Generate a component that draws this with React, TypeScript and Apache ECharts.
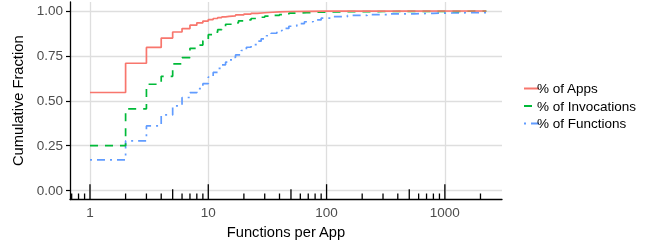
import React, { useEffect, useRef } from "react";
import * as echarts from "echarts";

// ---- data ----
const appsX = [1, 2, 3, 4, 5, 6, 7, 8, 9, 10, 11, 12, 13, 14, 15, 17, 20, 23, 26, 30, 35, 40, 50, 70, 100, 200, 2240];
const appsY = [0.546, 0.709, 0.797, 0.849, 0.883, 0.902, 0.921, 0.934, 0.944, 0.952, 0.958, 0.963, 0.967, 0.97, 0.973, 0.978, 0.983, 0.987, 0.99, 0.993, 0.995, 0.997, 0.998, 0.999, 0.9995, 0.9998, 1];

const invX = [1, 2, 3, 4, 5, 6, 7, 8, 9, 10, 11, 12, 13, 14, 16, 18, 20, 23, 26, 30, 35, 40, 48, 56, 68, 80, 95, 150, 300, 1100, 2240];
const invY = [0.25, 0.455, 0.592, 0.636, 0.705, 0.74, 0.792, 0.81, 0.833, 0.868, 0.882, 0.896, 0.905, 0.926, 0.934, 0.945, 0.95, 0.958, 0.965, 0.971, 0.976, 0.98, 0.988, 0.99, 0.993, 0.994, 0.996, 0.997, 0.998, 0.999, 1];

const funcX = [1, 2, 3, 4, 5, 6, 7, 8, 9, 10, 11, 12, 13, 14, 15, 16, 17, 19, 21, 23, 26, 28, 31, 34, 38, 42, 48, 56, 65, 77, 90, 110, 150, 220, 350, 550, 800, 1500, 2240];
const funcY = [0.171, 0.276, 0.36, 0.421, 0.472, 0.518, 0.545, 0.567, 0.595, 0.632, 0.658, 0.68, 0.7, 0.715, 0.728, 0.742, 0.755, 0.78, 0.798, 0.813, 0.832, 0.845, 0.862, 0.876, 0.89, 0.903, 0.915, 0.93, 0.94, 0.95, 0.96, 0.968, 0.975, 0.98, 0.984, 0.987, 0.99, 0.991, 1];

const seriesNames = ["% of Apps", "% of Invocations", "% of Functions"];
const xTickValues = [1, 10, 100, 1000];
const yTickValues = [0, 0.25, 0.5, 0.75, 1];
const logTicksMajor = [1, 10, 100, 1000];
const logTicksMid = [5, 50, 500];
const logTicksMinor = [0.7, 0.8, 0.9, 2, 3, 4, 6, 7, 8, 9, 20, 30, 40, 60, 70, 80, 90, 200, 300, 400, 600, 700, 800, 900, 2000];

const X_MIN = -0.169;
const X_MAX = 3.483;
const Y_MIN = -0.05;
const Y_MAX = 1.05;
const FONT = "'Liberation Sans', Arial, sans-serif";

const toPairs = (xs: number[], ys: number[]) => xs.map((x, i) => [Math.log10(x), ys[i]]);

export default function App() {
  const ref = useRef<HTMLDivElement>(null);
  useEffect(() => {
    if (!ref.current) return;
    const chart = echarts.init(ref.current, undefined, { renderer: "svg" });
    const tickLen = [15.3, 10.3, 6];
    const tickData = [
      ...logTicksMajor.map((v) => [Math.log10(v), 0]),
      ...logTicksMid.map((v) => [Math.log10(v), 1]),
      ...logTicksMinor.map((v) => [Math.log10(v), 2]),
    ];
    const lineBase = { type: "line", step: "end", showSymbol: false, symbol: "none", animation: false };
    chart.setOption({
      animation: false,
      grid: { left: 70, right: 147, top: 2, bottom: 43.5, containLabel: false, outerBoundsMode: "none" },
      xAxis: {
        type: "value",
        min: X_MIN,
        max: X_MAX,
        name: "Functions per App",
        nameLocation: "middle",
        nameGap: 24,
        nameTextStyle: { fontFamily: FONT, fontSize: 14.7, color: "#000" },
        axisLine: { show: true, onZero: false, lineStyle: { color: "#000", width: 1.3 } },
        axisTick: { show: false, customValues: xTickValues.map((v) => Math.log10(v)) },
        axisLabel: {
          customValues: xTickValues.map((v) => Math.log10(v)),
          formatter: (v: number) => String(Math.round(Math.pow(10, v))),
          fontFamily: FONT,
          fontSize: 13.5,
          color: "#4D4D4D",
          margin: 6,
        },
        splitLine: { show: true, lineStyle: { color: "#DEDEDE", width: 1.3 } },
      },
      yAxis: {
        type: "value",
        min: Y_MIN,
        max: Y_MAX,
        name: "Cumulative Fraction",
        nameLocation: "middle",
        nameGap: 41,
        nameTextStyle: { fontFamily: FONT, fontSize: 14.7, color: "#000" },
        axisLine: { show: true, onZero: false, lineStyle: { color: "#000", width: 1.3 } },
        axisTick: { show: true, length: 4, customValues: yTickValues, lineStyle: { color: "#000", width: 1.2 } },
        axisLabel: {
          customValues: yTickValues,
          formatter: (v: number) => v.toFixed(2),
          fontFamily: FONT,
          fontSize: 13.5,
          color: "#4D4D4D",
          margin: 7,
        },
        splitLine: { show: true, lineStyle: { color: "#DEDEDE", width: 1.3 } },
      },
      legend: {
        orient: "vertical",
        left: 518,
        top: 76.5,
        itemWidth: 15,
        itemHeight: 14,
        itemGap: 3.5,
        data: seriesNames,
        itemStyle: { opacity: 0 },
        textStyle: { fontFamily: FONT, fontSize: 13.5, color: "#000", padding: [0, 0, 0, -7] },
      },
      series: [
        {
          ...lineBase,
          name: seriesNames[0],
          data: toPairs(appsX, appsY),
          lineStyle: { color: "#F8766D", width: 1.7, type: "solid" },
          itemStyle: { color: "#F8766D" },
          z: 4,
        },
        {
          ...lineBase,
          name: seriesNames[1],
          data: toPairs(invX, invY),
          lineStyle: { color: "#00BA38", width: 1.7, type: [8, 7] },
          itemStyle: { color: "#00BA38" },
          z: 3,
        },
        {
          ...lineBase,
          name: seriesNames[2],
          data: toPairs(funcX, funcY),
          lineStyle: { color: "#619CFF", width: 1.7, type: [2, 5, 8, 5] },
          itemStyle: { color: "#619CFF" },
          z: 2,
        },
        {
          type: "custom",
          name: "logticks",
          data: tickData,
          silent: true,
          z: 5,
          renderItem: (params: any, api: any) => {
            const x = api.value(0);
            const kind = api.value(1);
            const base = api.coord([x, Y_MIN]);
            return {
              type: "line",
              shape: { x1: base[0], y1: base[1], x2: base[0], y2: base[1] - tickLen[kind] },
              style: { stroke: "#000", lineWidth: 1.3 },
            };
          },
        },
      ],
    });
    return () => chart.dispose();
  }, []);
  return <div ref={ref} style={{ position: "fixed", left: 0, top: 0, width: 649, height: 243 }} />;
}
